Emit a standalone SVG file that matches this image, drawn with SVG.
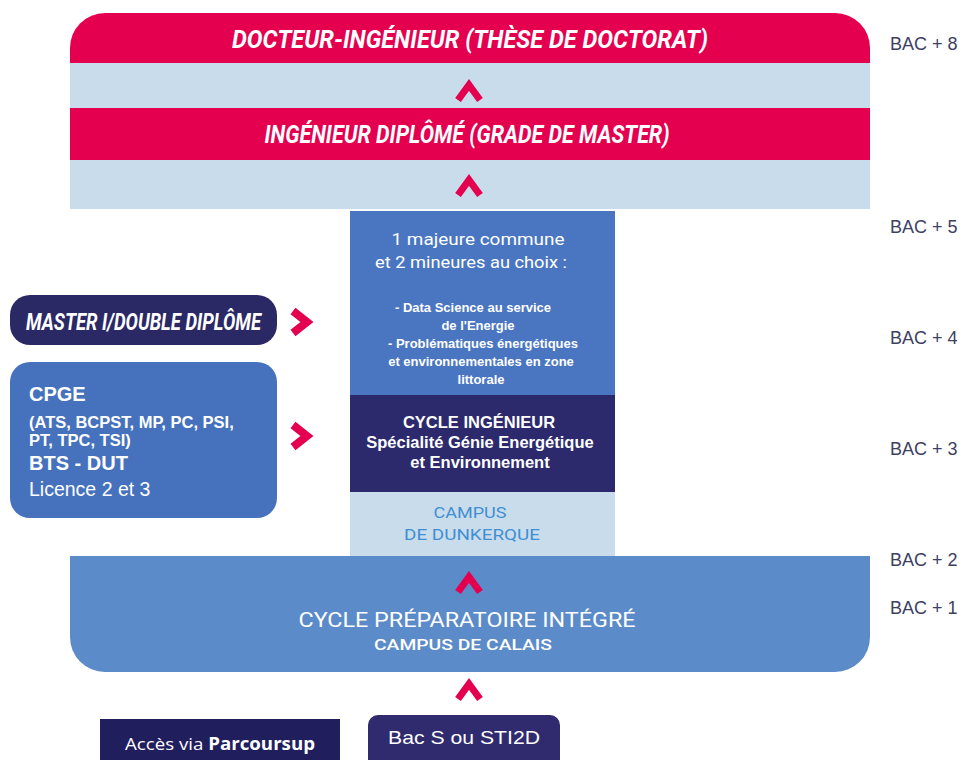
<svg xmlns="http://www.w3.org/2000/svg" xmlns:xlink="http://www.w3.org/1999/xlink" width="975" height="760" viewBox="0 0 975 760">
<style>
.title{font-family:Roboto,"Liberation Sans",sans-serif;font-weight:700;font-style:italic;fill:#ffffff}
.light{font-family:Roboto,"Liberation Sans",sans-serif;font-weight:400;fill:#ffffff}
.b{font-family:"Liberation Sans",Arial,sans-serif;font-weight:700;fill:#ffffff}
.r{font-family:"Liberation Sans",Arial,sans-serif;font-weight:400;fill:#ffffff}
.campus{font-family:Roboto,"Liberation Sans",sans-serif;font-weight:500;fill:#3f8fd2}
.bac{font-family:"Liberation Sans",Arial,sans-serif;font-size:18px;fill:#3e4062}
.chev{fill:none;stroke:#e4004f;stroke-linejoin:miter}
</style>
<defs>
<path id="chevUp" class="chev" stroke-width="7" d="M-11,8 L0,-7 L11,8"/>
<path id="chevRight" class="chev" stroke-width="8" d="M-8,-11 L6,0 L-8,11"/>
</defs>
<rect width="975" height="760" fill="#ffffff"/>

<g id="doctorat">
<path d="M70,48 A35,35 0 0 1 105,13 H835 A35,35 0 0 1 870,48 V63 H70 Z" fill="#e4004f"/>
<rect x="70" y="63" width="800" height="45" fill="#c9dcec"/>
<text class="title" x="470" y="48" font-size="25" text-anchor="middle" textLength="476" lengthAdjust="spacingAndGlyphs">DOCTEUR-INGÉNIEUR (THÈSE DE DOCTORAT)</text>
</g>

<g id="ingenieur-diplome">
<rect x="70" y="108" width="800" height="52" fill="#e4004f"/>
<rect x="70" y="160" width="800" height="49" fill="#c9dcec"/>
<text class="title" x="467" y="143" font-size="25" text-anchor="middle" textLength="405" lengthAdjust="spacingAndGlyphs">INGÉNIEUR DIPLÔMÉ (GRADE DE MASTER)</text>
</g>

<g id="majeure">
<rect x="350" y="211" width="265" height="184" fill="#4a76c1"/>
<text class="light" x="478" y="245" font-size="17" text-anchor="middle" textLength="173" lengthAdjust="spacingAndGlyphs">1 majeure commune</text>
<text class="light" x="471" y="268" font-size="17" text-anchor="middle" textLength="192" lengthAdjust="spacingAndGlyphs">et 2 mineures au choix :</text>
<text class="b" x="473" y="312" font-size="13" text-anchor="middle">- Data Science au service</text>
<text class="b" x="478" y="330" font-size="13" text-anchor="middle">de l'Energie</text>
<text class="b" x="483" y="348" font-size="13" text-anchor="middle">- Problématiques énergétiques</text>
<text class="b" x="481" y="366" font-size="13" text-anchor="middle">et environnementales en zone</text>
<text class="b" x="481" y="384" font-size="13" text-anchor="middle">littorale</text>
</g>

<g id="cycle-ingenieur">
<rect x="350" y="395" width="265" height="97" fill="#2c2a6c"/>
<text class="b" x="479" y="428" font-size="16.5" text-anchor="middle">CYCLE INGÉNIEUR</text>
<text class="b" x="480" y="448" font-size="16.5" text-anchor="middle">Spécialité Génie Energétique</text>
<text class="b" x="480" y="468" font-size="16.5" text-anchor="middle">et Environnement</text>
</g>

<g id="campus-dunkerque">
<rect x="350" y="492" width="265" height="64" fill="#c9dcec"/>
<text class="campus" x="470" y="518" font-size="15" text-anchor="middle" textLength="73" lengthAdjust="spacingAndGlyphs" style="font-weight:400">CAMPUS</text>
<text class="campus" x="472" y="540" font-size="15" text-anchor="middle" textLength="136" lengthAdjust="spacingAndGlyphs" style="font-weight:400">DE DUNKERQUE</text>
</g>

<g id="cycle-preparatoire">
<path d="M70,556 H870 V637 A35,35 0 0 1 835,672 H105 A35,35 0 0 1 70,637 Z" fill="#5b8bc9"/>
<text class="light" x="467" y="627" font-size="21" text-anchor="middle" textLength="337" lengthAdjust="spacingAndGlyphs">CYCLE PRÉPARATOIRE INTÉGRÉ</text>
<text class="campus" x="463" y="650" font-size="15" text-anchor="middle" textLength="178" lengthAdjust="spacingAndGlyphs" style="fill:#ffffff">CAMPUS DE CALAIS</text>
</g>

<g id="master">
<rect x="10" y="295" width="267" height="50" rx="20" fill="#2b2866"/>
<text class="title" x="26" y="330" font-size="24" textLength="235" lengthAdjust="spacingAndGlyphs">MASTER I/DOUBLE DIPLÔME</text>
</g>

<g id="cpge">
<rect x="10" y="362" width="267" height="156" rx="20" fill="#4672bd"/>
<text class="b" x="29" y="401" font-size="20">CPGE</text>
<text class="b" x="29" y="428" font-size="16.5">(ATS, BCPST, MP, PC, PSI,</text>
<text class="b" x="29" y="446" font-size="16.5">PT, TPC, TSI)</text>
<text class="b" x="29" y="470" font-size="20">BTS - DUT</text>
<text class="r" x="29" y="496" font-size="19.5">Licence 2 et 3</text>
</g>

<g id="parcoursup">
<rect x="100" y="719" width="240" height="41" fill="#211e5e"/>
<text x="220" y="750" font-family="'Open Sans','Liberation Sans',sans-serif" font-size="17" fill="#ffffff" text-anchor="middle" textLength="190" lengthAdjust="spacingAndGlyphs">Accès via <tspan font-weight="700">Parcoursup</tspan></text>
</g>

<g id="bac-s">
<path d="M368,760 V725 A10,10 0 0 1 378,715 H550 A10,10 0 0 1 560,725 V760 Z" fill="#302b6e"/>
<text class="r" x="464" y="744" font-size="19" text-anchor="middle" textLength="152" lengthAdjust="spacingAndGlyphs">Bac S ou STI2D</text>
</g>

<g id="bac-levels">
<text class="bac" x="890" y="50">BAC + 8</text>
<text class="bac" x="890" y="233">BAC + 5</text>
<text class="bac" x="890" y="344">BAC + 4</text>
<text class="bac" x="890" y="455">BAC + 3</text>
<text class="bac" x="890" y="566">BAC + 2</text>
<text class="bac" x="890" y="614">BAC + 1</text>
</g>

<g id="connectors">
<use xlink:href="#chevUp" x="469" y="92"/>
<use xlink:href="#chevUp" x="469" y="187"/>
<use xlink:href="#chevUp" x="469" y="584"/>
<use xlink:href="#chevUp" x="469" y="691"/>
<use xlink:href="#chevRight" x="301" y="322"/>
<use xlink:href="#chevRight" x="301" y="436"/>
</g>
</svg>
